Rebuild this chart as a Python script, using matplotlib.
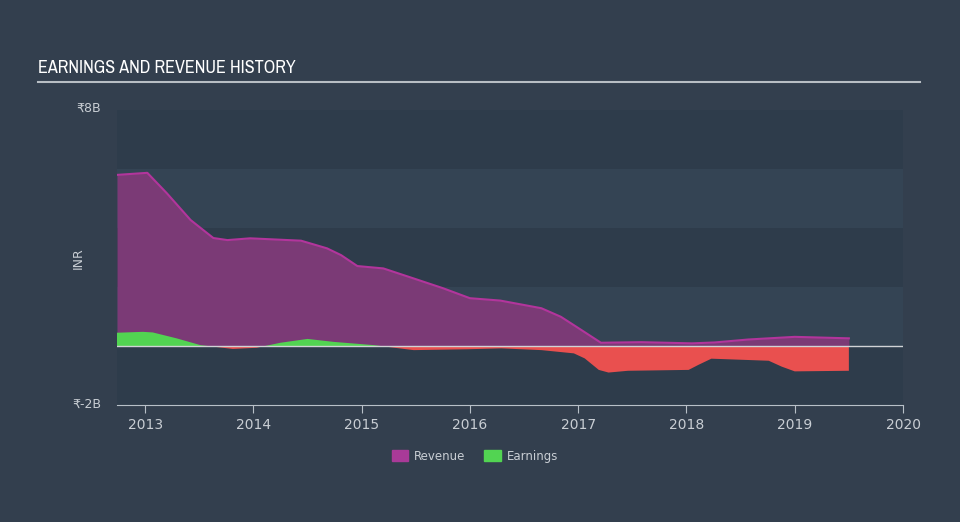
import matplotlib.pyplot as plt
from matplotlib import font_manager
from matplotlib.patches import Patch
import numpy as np

# revenue, INR billions, by decimal year
rev_dates = [2012.74, 2013.02, 2013.20, 2013.42, 2013.63, 2013.76, 2013.97, 2014.44,
             2014.68, 2014.81, 2014.96, 2015.20, 2015.48, 2015.75, 2016.00, 2016.28,
             2016.66, 2016.84, 2017.03, 2017.21, 2017.58, 2018.05, 2018.26, 2018.57,
             2019.00, 2019.50]
rev_vals = [5.80, 5.87, 5.18, 4.27, 3.66, 3.59, 3.65, 3.57,
            3.31, 3.08, 2.71, 2.63, 2.29, 1.96, 1.62, 1.54,
            1.28, 0.99, 0.54, 0.11, 0.13, 0.09, 0.12, 0.22,
            0.31, 0.26]

# earnings, INR billions
earn_dates = [2012.74, 2012.98, 2013.07, 2013.29, 2013.51, 2013.81, 2014.03, 2014.25,
              2014.50, 2014.74, 2015.11, 2015.48, 2015.98, 2016.29, 2016.66, 2016.96,
              2017.06, 2017.19, 2017.28, 2017.46, 2018.02, 2018.11, 2018.23, 2018.76,
              2018.88, 2019.00, 2019.50]
earn_vals = [0.45, 0.48, 0.46, 0.26, 0.03, -0.10, -0.06, 0.11,
             0.24, 0.14, 0.03, -0.14, -0.11, -0.08, -0.14, -0.25,
             -0.42, -0.81, -0.90, -0.84, -0.81, -0.64, -0.43, -0.50,
             -0.70, -0.86, -0.84]

year_ticks = [2013, 2014, 2015, 2016, 2017, 2018, 2019, 2020]

BG = "#333f4e"
DARK_BAND = "#2e3c4b"
LIGHT_BAND = "#344454"
TEXT = "#c9ced4"

# pick a narrow face for the title if one is installed
names = {f.name for f in font_manager.fontManager.ttflist}
narrow = [n for n in sorted(names) if "Narrow" in n or "Condensed" in n]
title_family = narrow[:1] + ["DejaVu Sans"]
title_size = 13 if narrow else 9

fig = plt.figure(figsize=(9.6, 5.22), dpi=100, facecolor=BG)
ax = fig.add_axes([117 / 960, 1 - 405 / 522, 786 / 960, 295 / 522])
ax.set_facecolor(DARK_BAND)
ax.set_xlim(2012.74, 2020.0)
ax.set_ylim(-2, 8)

# alternating horizontal bands
for lo in (4, 0):
    ax.axhspan(lo, lo + 2, color=LIGHT_BAND, lw=0, zorder=0)

rx = np.array(rev_dates)
ry = np.array(rev_vals)
ax.fill_between(rx, ry, 0, color="#7b3a76", lw=0, zorder=2)
ax.plot(rx, ry, color="#b2359c", lw=1.5, zorder=3)

ex = np.array(earn_dates)
ey = np.array(earn_vals)
ax.fill_between(ex, ey, 0, where=ey >= 0, interpolate=True, color="#52d452", lw=0, zorder=4)
ax.fill_between(ex, ey, 0, where=ey <= 0, interpolate=True, color="#e9504f", lw=0, zorder=4)

ax.axhline(0, color="#d0d3d6", lw=1, zorder=5)

for side in ("top", "right", "left"):
    ax.spines[side].set_visible(False)
ax.spines["bottom"].set_color("#b8c0c8")
ax.set_xticks(year_ticks)
ax.set_xticklabels([str(y) for y in year_ticks])
ax.tick_params(axis="x", colors="#b8c0c8", labelcolor=TEXT, labelsize=10, length=6, direction="out")
ax.set_yticks([])

fig.text(101 / 960, 1 - 108 / 522, "₹8B", color=TEXT, fontsize=9, ha="right", va="center")
fig.text(101 / 960, 1 - 404 / 522, "₹-2B", color=TEXT, fontsize=9, ha="right", va="center")
fig.text(78 / 960, 1 - 258 / 522, "INR", color=TEXT, fontsize=9, rotation=90, ha="center", va="center")

fig.text(38 / 960, 1 - 68 / 522, "EARNINGS AND REVENUE HISTORY", color="white", fontsize=title_size,
         fontweight="bold", family=title_family, ha="left", va="center")
fig.add_artist(plt.Line2D([38 / 960, 920 / 960], [1 - 82 / 522, 1 - 82 / 522],
                          color="#b8bec4", lw=1.5))

handles = [Patch(color="#a93a98", label="Revenue"), Patch(color="#52d452", label="Earnings")]
fig.legend(handles=handles, loc="center", bbox_to_anchor=(475 / 960, 1 - 456 / 522), ncol=2,
           frameon=False, fontsize=8.5, labelcolor=TEXT, handlelength=1.4, handleheight=1.1,
           columnspacing=1.6, handletextpad=0.5)

fig.savefig("out.png", dpi=100, facecolor=BG)
